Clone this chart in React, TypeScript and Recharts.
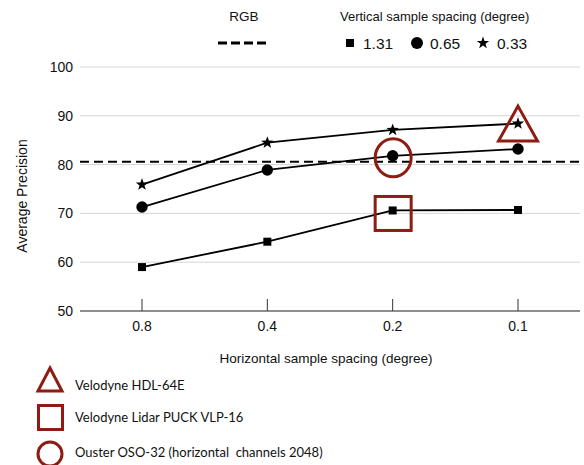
import React from 'react';
import { LineChart, Line, XAxis, YAxis, CartesianGrid, ReferenceLine, ReferenceDot } from 'recharts';

const categories = ['0.8', '0.4', '0.2', '0.1'];
const ap131 = [59.0, 64.2, 70.6, 70.7];
const ap065 = [71.3, 78.9, 81.8, 83.2];
const ap033 = [75.9, 84.5, 87.1, 88.4];
const rgbAP = 80.6;
const yTicks = [50, 60, 70, 80, 90, 100];
const spacingLabels = ['1.31', '0.65', '0.33'];
const sensorNames = ['Velodyne HDL-64E', 'Velodyne Lidar PUCK VLP-16', 'Ouster OSO-32 (horizontal  channels 2048)'];
const sensorCategory = ['0.1', '0.2', '0.2'];
const sensorValue = [88.4, 70.6, 81.8];

const data = categories.map((c, i) => ({ cat: c, s131: ap131[i], s065: ap065[i], s033: ap033[i] }));

const RED = '#8E1C13';
const FONT = '"Liberation Sans", Arial, sans-serif';

const starPath = (cx: number, cy: number, R: number, r: number) => {
  let d = '';
  for (let i = 0; i < 10; i++) {
    const ang = -Math.PI / 2 + (i * Math.PI) / 5;
    const rad = i % 2 === 0 ? R : r;
    d += (i === 0 ? 'M' : 'L') + (cx + rad * Math.cos(ang)).toFixed(2) + ',' + (cy + rad * Math.sin(ang)).toFixed(2);
  }
  return d + 'Z';
};

const SquareDot = (p: any) => <rect key={p.index} x={p.cx - 4} y={p.cy - 4} width={8} height={8} fill="#000" />;
const CircleDot = (p: any) => <circle key={p.index} cx={p.cx} cy={p.cy} r={5.7} fill="#000" />;
const StarDot = (p: any) => <path key={p.index} d={starPath(p.cx, p.cy, 6.5, 2.6)} fill="#000" />;

const TriangleMark = (p: any) => (
  <path d={`M${p.cx},${p.cy - 17.5} L${p.cx + 19.5},${p.cy + 17.5} L${p.cx - 19.5},${p.cy + 17.5} Z`} fill="none" stroke={RED} strokeWidth={3} />
);
const SquareMark = (p: any) => (
  <rect x={p.cx - 17.5} y={p.cy - 14} width={36} height={34} fill="none" stroke={RED} strokeWidth={3} />
);
const CircleMark = (p: any) => (
  <ellipse cx={p.cx + 0.5} cy={p.cy + 2} rx={18} ry={19} fill="none" stroke={RED} strokeWidth={3} />
);
const markShapes = [TriangleMark, SquareMark, CircleMark];

const XTick = (p: any) => {
  const { x, y, payload } = p;
  return (
    <g>
      <line x1={x} x2={x} y1={y - 12} y2={y} stroke="#333" strokeWidth={1} />
      <text x={x} y={y + 15} textAnchor="middle" dominantBaseline="central" fontFamily={FONT} fontSize={14} fill="#111">
        {payload.value}
      </text>
    </g>
  );
};

const YTick = (p: any) => {
  const { x, y, payload } = p;
  return (
    <text x={x} y={y} textAnchor="end" dominantBaseline="central" fontFamily={FONT} fontSize={14} fill="#111">
      {payload.value}
    </text>
  );
};

export default function App() {
  return (
    <div style={{ position: 'relative', width: 584, height: 465, background: '#fff' }}>
      <style>{`body{margin:0}`}</style>
      <LineChart width={584} height={465} data={data} margin={{ top: 67, right: 4, bottom: 124, left: 0 }}>
        <CartesianGrid vertical={false} stroke="#d6d6d6" strokeWidth={1} />
        <XAxis
          dataKey="cat"
          padding={{ left: 62, right: 62 }}
          height={30}
          tickSize={0}
          tickMargin={0}
          tickLine={false}
          axisLine={{ stroke: '#333', strokeWidth: 1 }}
          tick={<XTick />}
        />
        <YAxis
          domain={[50, 100]}
          ticks={yTicks}
          width={80}
          tickSize={0}
          tickMargin={7}
          tickLine={false}
          axisLine={false}
          tick={<YTick />}
        />
        <ReferenceLine y={rgbAP} stroke="#000" strokeWidth={2} strokeDasharray="9 5" />
        <Line dataKey="s131" stroke="#000" strokeWidth={1.8} dot={SquareDot} isAnimationActive={false} />
        <Line dataKey="s065" stroke="#000" strokeWidth={1.8} dot={CircleDot} isAnimationActive={false} />
        <Line dataKey="s033" stroke="#000" strokeWidth={1.8} dot={StarDot} isAnimationActive={false} />
        {sensorNames.map((n, i) => (
          <ReferenceDot key={n} x={sensorCategory[i]} y={sensorValue[i]} shape={markShapes[i]} />
        ))}
      </LineChart>
      <svg width={584} height={465} style={{ position: 'absolute', left: 0, top: 0, pointerEvents: 'none' }}>
        <text x={22} y={196} transform="rotate(-90 22 196)" textAnchor="middle" dominantBaseline="central" fontFamily={FONT} fontSize={14} fill="#111">
          Average Precision
        </text>
        <text x={326} y={358} textAnchor="middle" dominantBaseline="central" fontFamily={FONT} fontSize={13.5} fill="#111">
          Horizontal sample spacing (degree)
        </text>
        <text x={244} y={16} textAnchor="middle" dominantBaseline="central" fontFamily={FONT} fontSize={13.5} fill="#111">
          RGB
        </text>
        <line x1={218} x2={270} y1={43} y2={43} stroke="#000" strokeWidth={3} strokeDasharray="9 4" />
        <text x={340} y={16} textAnchor="start" dominantBaseline="central" fontFamily={FONT} fontSize={13} fill="#111">
          Vertical sample spacing (degree)
        </text>
        <rect x={346} y={39} width={8} height={8} fill="#000" />
        <text x={363} y={43} dominantBaseline="central" fontFamily={FONT} fontSize={15.5} fill="#111">{spacingLabels[0]}</text>
        <circle cx={417} cy={43} r={6} fill="#000" />
        <text x={430} y={43} dominantBaseline="central" fontFamily={FONT} fontSize={15.5} fill="#111">{spacingLabels[1]}</text>
        <path d={starPath(483, 43, 6.5, 2.6)} fill="#000" />
        <text x={497} y={43} dominantBaseline="central" fontFamily={FONT} fontSize={15.5} fill="#111">{spacingLabels[2]}</text>
        <path d="M50,368 L62,391 L38,391 Z" fill="none" stroke={RED} strokeWidth={3} />
        <rect x={38.5} y={405.5} width={24} height={24} fill="none" stroke={RED} strokeWidth={3} />
        <circle cx={50} cy={454} r={12} fill="none" stroke={RED} strokeWidth={3} />
      </svg>
      {sensorNames.map((n, i) => (
        <div
          key={n}
          style={{
            position: 'absolute',
            left: 75,
            top: [385, 417, 452][i] - 10,
            height: 20,
            lineHeight: '20px',
            fontFamily: 'Lato, sans-serif',
            fontSize: 13,
            color: '#111',
            whiteSpace: 'pre',
          }}
        >
          {n}
        </div>
      ))}
    </div>
  );
}
